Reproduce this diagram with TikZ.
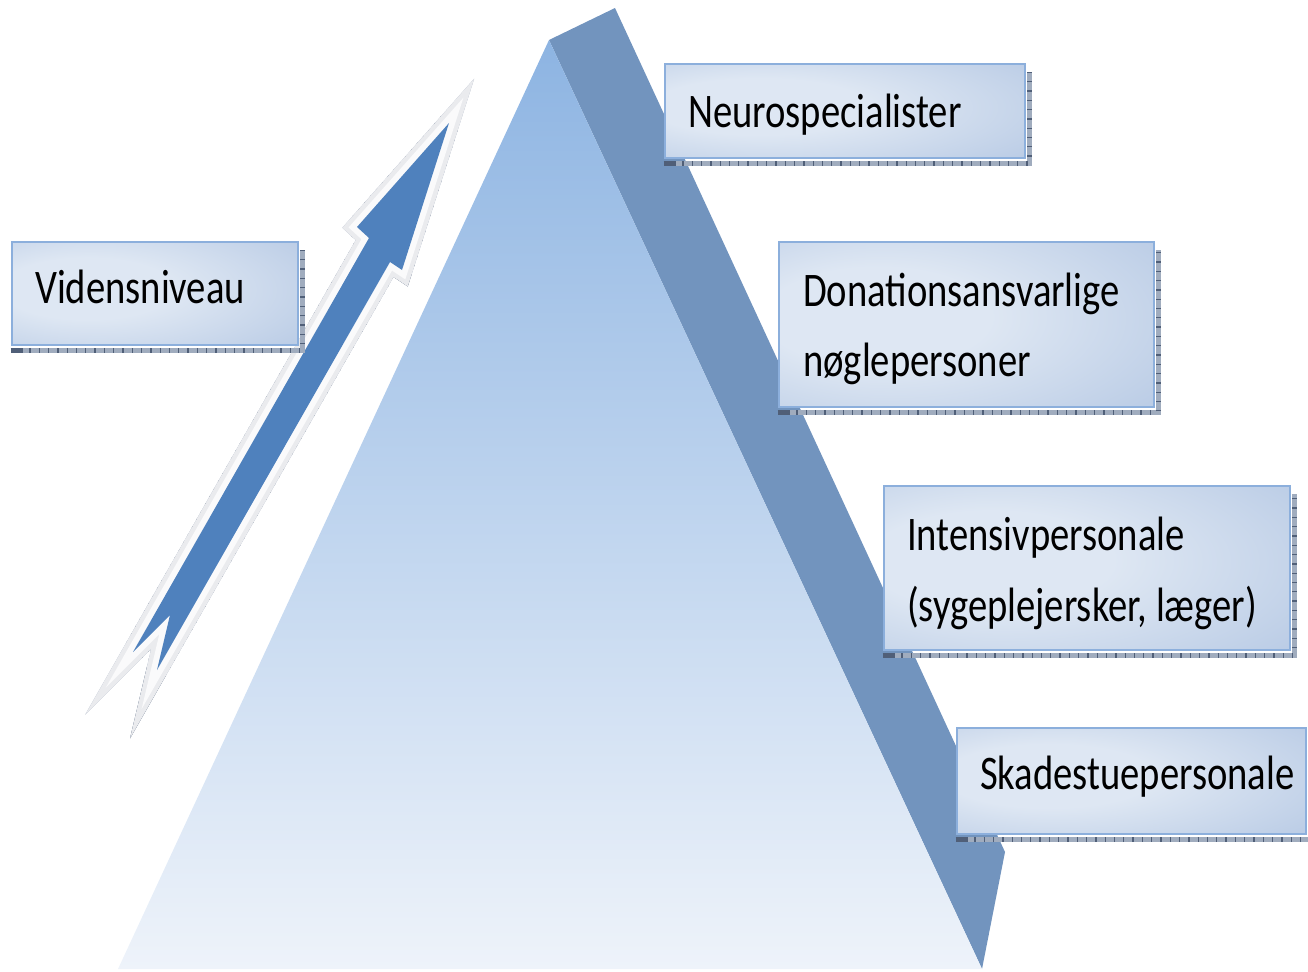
\documentclass[tikz,border=0pt]{standalone}
\usepackage{fontspec}
\setmainfont{Carlito}
\definecolor{sidecol}{RGB}{114,148,190}
\definecolor{toptri}{RGB}{141,180,226}
\definecolor{bottri}{RGB}{238,243,250}
\definecolor{arrowblue}{RGB}{79,129,189}
\definecolor{glowout}{RGB}{234,235,238}
\definecolor{glowin}{RGB}{250,250,251}
\definecolor{shadowlight}{RGB}{160,172,190}
\definecolor{shadowdark}{RGB}{80,95,120}
\definecolor{boxlight}{RGB}{222,231,243}
\definecolor{boxmid}{RGB}{185,203,229}
\definecolor{boxdark}{RGB}{135,169,212}
\definecolor{boxedge}{RGB}{140,175,220}
\pgfdeclareradialshading{boxshade}{\pgfpoint{-15bp}{3bp}}{color(0bp)=(boxlight); color(15bp)=(boxlight); color(42bp)=(boxmid); color(72bp)=(boxdark)}
\newcommand{\lbltext}[1]{\scalebox{1}[1.25]{#1}}
\begin{document}
\begin{tikzpicture}[x=1pt,y=-1pt,
  lbl/.style={anchor=base west, inner sep=0pt, font=\fontsize{38.6}{46}\selectfont},
  box/.style={rectangle, draw=boxedge, line width=2.5pt, shade, shading=boxshade, inner sep=0pt},
  shlight/.style={line width=5pt, draw=shadowlight},
  shtick/.style={line width=5pt, draw=shadowdark, dash pattern=on 1.3pt off 8pt},
  arrowpath/.style={line join=miter, miter limit=20}
]
\useasboundingbox (0,0) rectangle (1308,971);

% pyramid
\coordinate (apex) at (549,40);
\coordinate (sidetop) at (615,8);
\coordinate (sideright) at (1005,852);
\coordinate (br) at (982,969);
\coordinate (bl) at (118,969);
\fill[sidecol] (apex) -- (sidetop) -- (sideright) -- (br) -- cycle;
\shade[top color=toptri, bottom color=bottri] (apex) -- (bl) -- (br) -- cycle;

% arrow
\coordinate (T) at (449,123);
\coordinate (LB) at (357,227);
\coordinate (LJ) at (369,238);
\coordinate (LT) at (133,652);
\coordinate (N) at (170,615);
\coordinate (RT) at (157,670);
\coordinate (RJ) at (390,262);
\coordinate (RB) at (402,270);
\begin{scope}[shift={(6,4)}]
\draw[arrowpath, line width=21pt, shadowlight, fill=shadowlight] (T) -- (LB) -- (LJ) -- (LT) -- (N) -- (RT) -- (RJ) -- (RB) -- cycle;
\draw[arrowpath, line width=21pt, shadowdark, dash pattern=on 1.8pt off 7pt] (T) -- (LB) -- (LJ) -- (LT) -- (N) -- (RT) -- (RJ) -- (RB) -- cycle;
\end{scope}
\draw[arrowpath, line width=21pt, glowout, fill=glowout] (T) -- (LB) -- (LJ) -- (LT) -- (N) -- (RT) -- (RJ) -- (RB) -- cycle;
\draw[arrowpath, line width=12pt, glowin] (T) -- (LB) -- (LJ) -- (LT) -- (N) -- (RT) -- (RJ) -- (RB) -- cycle;
\fill[arrowblue] (T) -- (LB) -- (LJ) -- (LT) -- (N) -- (RT) -- (RJ) -- (RB) -- cycle;

% boxes
\node[box, minimum width=360pt, minimum height=94pt] (neuro) at (845,111) {};
\node[box, minimum width=286pt, minimum height=103pt] (viden) at (155,293.5) {};
\node[box, minimum width=375pt, minimum height=165pt] (donat) at (966.5,324.5) {};
\node[box, minimum width=406pt, minimum height=164pt] (inten) at (1087,568) {};
\node[box, minimum width=349pt, minimum height=106pt] (skade) at (1131.5,781) {};

\foreach \b in {neuro,viden,donat,inten,skade}{
  \draw[shlight] ([yshift=-4pt]\b.south west) -- ([xshift=3pt,yshift=-4pt]\b.south east) -- ([xshift=3pt,yshift=-9pt]\b.north east);
  \draw[shtick] ([yshift=-4pt]\b.south west) -- ([xshift=3pt,yshift=-4pt]\b.south east) -- ([xshift=3pt,yshift=-9pt]\b.north east);
  \draw[line width=5pt, shadowdark] ([yshift=-4pt]\b.south west) -- ([xshift=12pt,yshift=-4pt]\b.south west);
}

% labels
\node[lbl] (neurot) at (688,128) {\lbltext{Neurospecialister}};
\node[lbl] (vident) at (35,303) {\lbltext{Vidensniveau}};
\node[lbl] (donatt1) at (803,306) {\lbltext{Donationsansvarlige}};
\node[lbl] (donatt2) at (803,376) {\lbltext{nøglepersoner}};
\node[lbl] (intent1) at (907,550) {\lbltext{Intensivpersonale}};
\node[lbl] (intent2) at (907,621) {\lbltext{(sygeplejersker, læger)}};
\node[lbl] (skadet) at (980,789) {\lbltext{Skadestuepersonale}};
\end{tikzpicture}
\end{document}
